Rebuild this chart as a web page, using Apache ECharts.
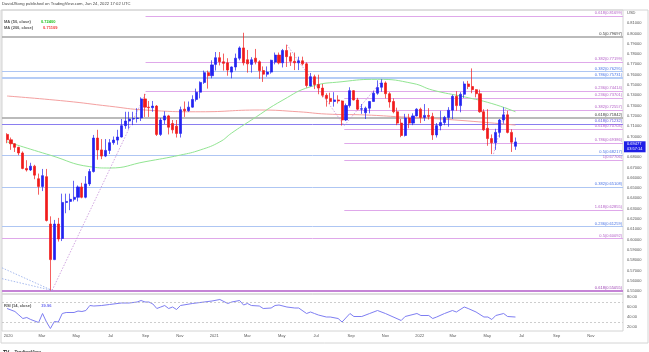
<!DOCTYPE html>
<html>
<head>
<meta charset="utf-8">
<script src="https://cdn.jsdelivr.net/npm/echarts@6/dist/echarts.min.js"></script>
<style>
html, body { margin: 0; padding: 0; background: #fff; }
#chart { width: 649px; height: 352px; }
</style>
</head>
<body>
<div id="chart"></div>
<script>
var DAY = 86400000;
var firstWeek = '2019-12-30';

// weekly AUD/USD candles: [open, close, low, high]
var candles = [
  // 2020
  [0.7020, 0.6968, 0.6935, 0.7032], [0.6968, 0.6930, 0.6870, 0.6990], [0.6930, 0.6895, 0.6850, 0.6935],
  [0.6895, 0.6840, 0.6818, 0.6900], [0.6840, 0.6690, 0.6682, 0.6855], [0.6690, 0.6675, 0.6660, 0.6770],
  [0.6675, 0.6712, 0.6665, 0.6745], [0.6712, 0.6625, 0.6585, 0.6725], [0.6590, 0.6515, 0.6435, 0.6640],
  [0.6515, 0.6620, 0.6470, 0.6685], [0.6610, 0.6185, 0.6175, 0.6685], [0.6150, 0.5805, 0.5506, 0.6225],
  [0.5805, 0.6150, 0.5800, 0.6190], [0.6150, 0.6005, 0.5980, 0.6210], [0.6010, 0.6360, 0.5985, 0.6445],
  [0.6360, 0.6370, 0.6255, 0.6445], [0.6370, 0.6390, 0.6285, 0.6445], [0.6390, 0.6410, 0.6370, 0.6570],
  [0.6410, 0.6510, 0.6370, 0.6525], [0.6510, 0.6410, 0.6400, 0.6550], [0.6410, 0.6540, 0.6400, 0.6615],
  [0.6540, 0.6660, 0.6520, 0.6685], [0.6660, 0.6985, 0.6650, 0.7015], [0.6985, 0.6870, 0.6775, 0.7065],
  [0.6870, 0.6810, 0.6780, 0.6975], [0.6810, 0.6865, 0.6800, 0.6975], [0.6865, 0.6940, 0.6830, 0.6975],
  [0.6940, 0.6965, 0.6920, 0.7000], [0.6965, 0.6995, 0.6920, 0.7065], [0.6995, 0.7105, 0.6990, 0.7170],
  [0.7105, 0.7150, 0.7075, 0.7240], [0.7150, 0.7170, 0.7075, 0.7240], [0.7170, 0.7175, 0.7110, 0.7240],
  [0.7175, 0.7180, 0.7135, 0.7275], [0.7180, 0.7365, 0.7150, 0.7380], [0.7365, 0.7285, 0.7190, 0.7414],
  [0.7285, 0.7280, 0.7190, 0.7345], [0.7280, 0.7295, 0.7240, 0.7345], [0.7295, 0.7020, 0.7005, 0.7305],
  [0.7020, 0.7160, 0.7005, 0.7180], [0.7160, 0.7200, 0.7120, 0.7245], [0.7200, 0.7090, 0.7020, 0.7210],
  [0.7125, 0.7065, 0.7030, 0.7160], [0.7100, 0.7030, 0.6990, 0.7160], [0.7030, 0.7260, 0.6990, 0.7290],
  [0.7265, 0.7250, 0.7190, 0.7340], [0.7250, 0.7285, 0.7240, 0.7340], [0.7285, 0.7360, 0.7280, 0.7400],
  [0.7360, 0.7430, 0.7340, 0.7465], [0.7430, 0.7525, 0.7370, 0.7535], [0.7525, 0.7620, 0.7510, 0.7640],
  [0.7620, 0.7590, 0.7465, 0.7640], [0.7590, 0.7695, 0.7565, 0.7740],
  // 2021
  [0.7700, 0.7765, 0.7640, 0.7820], [0.7765, 0.7725, 0.7690, 0.7820], [0.7725, 0.7710, 0.7640, 0.7805],
  [0.7715, 0.7645, 0.7590, 0.7760], [0.7625, 0.7675, 0.7565, 0.7680], [0.7675, 0.7760, 0.7640, 0.7805],
  [0.7760, 0.7860, 0.7740, 0.7875], [0.7860, 0.7715, 0.7690, 0.8007], [0.7745, 0.7705, 0.7620, 0.7840],
  [0.7700, 0.7745, 0.7620, 0.7770], [0.7760, 0.7725, 0.7700, 0.7850], [0.7725, 0.7640, 0.7560, 0.7740],
  [0.7640, 0.7605, 0.7530, 0.7680], [0.7605, 0.7625, 0.7580, 0.7680], [0.7625, 0.7740, 0.7610, 0.7745],
  [0.7722, 0.7790, 0.7700, 0.7815], [0.7790, 0.7715, 0.7700, 0.7815], [0.7715, 0.7835, 0.7670, 0.7850],
  [0.7835, 0.7775, 0.7675, 0.7891], [0.7775, 0.7730, 0.7685, 0.7815], [0.7730, 0.7715, 0.7645, 0.7815],
  [0.7715, 0.7735, 0.7645, 0.7775], [0.7735, 0.7705, 0.7690, 0.7775], [0.7705, 0.7495, 0.7475, 0.7720],
  [0.7490, 0.7580, 0.7485, 0.7617], [0.7580, 0.7505, 0.7460, 0.7600], [0.7505, 0.7470, 0.7410, 0.7600],
  [0.7470, 0.7400, 0.7380, 0.7510], [0.7400, 0.7370, 0.7290, 0.7420], [0.7370, 0.7340, 0.7315, 0.7425],
  [0.7340, 0.7355, 0.7290, 0.7430], [0.7355, 0.7345, 0.7320, 0.7400], [0.7345, 0.7160, 0.7106, 0.7350],
  [0.7160, 0.7300, 0.7150, 0.7320], [0.7300, 0.7445, 0.7280, 0.7478], [0.7445, 0.7355, 0.7350, 0.7450],
  [0.7355, 0.7265, 0.7255, 0.7375], [0.7265, 0.7270, 0.7220, 0.7315], [0.7230, 0.7275, 0.7170, 0.7290],
  [0.7275, 0.7340, 0.7225, 0.7345], [0.7340, 0.7420, 0.7340, 0.7440], [0.7420, 0.7475, 0.7405, 0.7545],
  [0.7478, 0.7520, 0.7435, 0.7556], [0.7520, 0.7415, 0.7370, 0.7535], [0.7415, 0.7335, 0.7280, 0.7430],
  [0.7340, 0.7240, 0.7225, 0.7370], [0.7240, 0.7130, 0.7110, 0.7280], [0.7130, 0.7010, 0.6993, 0.7170],
  [0.7010, 0.7180, 0.7000, 0.7220], [0.7180, 0.7130, 0.7080, 0.7220], [0.7130, 0.7200, 0.7110, 0.7225],
  [0.7200, 0.7265, 0.7195, 0.7275],
  // 2022
  [0.7265, 0.7185, 0.7130, 0.7280], [0.7185, 0.7205, 0.7150, 0.7315], [0.7205, 0.7195, 0.7165, 0.7275],
  [0.7195, 0.7015, 0.6967, 0.7230], [0.7015, 0.7105, 0.6990, 0.7130], [0.7105, 0.7135, 0.7060, 0.7250],
  [0.7135, 0.7185, 0.7110, 0.7200], [0.7185, 0.7255, 0.7095, 0.7285], [0.7255, 0.7390, 0.7170, 0.7405],
  [0.7390, 0.7300, 0.7250, 0.7440], [0.7300, 0.7410, 0.7235, 0.7430], [0.7410, 0.7510, 0.7375, 0.7535],
  [0.7510, 0.7485, 0.7460, 0.7540], [0.7485, 0.7455, 0.7420, 0.7661], [0.7455, 0.7415, 0.7380, 0.7460],
  [0.7415, 0.7240, 0.7230, 0.7455], [0.7240, 0.7065, 0.7055, 0.7265], [0.7080, 0.6980, 0.6910, 0.7265],
  [0.6980, 0.6940, 0.6829, 0.7020], [0.6940, 0.7040, 0.6870, 0.7075], [0.7040, 0.7160, 0.6990, 0.7170],
  [0.7160, 0.7210, 0.7125, 0.7283], [0.7210, 0.7040, 0.7030, 0.7250], [0.7040, 0.6945, 0.6850, 0.7070],
  [0.6905, 0.69477, 0.6870, 0.6990]
];
var lastClose = 0.69477;
var countdown = '03:57:14';

// moving averages: [week index, value]
var ma50Points = [[0, 0.6948], [11, 0.6818], [21, 0.6707], [26, 0.6694], [35, 0.6755], [44, 0.6820],
  [49, 0.6869], [54, 0.6948], [57, 0.7034], [62, 0.7160], [70, 0.7354], [77, 0.7483], [85, 0.7532],
  [94, 0.7555], [103, 0.7515], [108, 0.7450], [116, 0.7385], [123, 0.7320], [129, 0.7240]];
var ma200Points = [[0, 0.7393], [15, 0.7343], [26, 0.7294], [35, 0.7257], [49, 0.7240], [64, 0.7257],
  [74, 0.7240], [81, 0.7218], [91, 0.7209], [100, 0.7190], [112, 0.7165], [129, 0.7111]];
var ma50Last = '0.72400';
var ma200Last = '0.71109';

// RSI(14): [week index, value]
var rsiPoints = [[0, 57], [2, 51], [3, 44], [4, 37], [5, 39], [6, 35], [8, 29], [9, 47], [10, 30], [11, 17],
  [12, 31], [13, 30], [14, 47], [15, 49], [17, 49], [18, 52], [19, 51], [20, 53], [21, 63], [22, 62],
  [24, 63], [26, 65], [29, 68], [31, 68], [33, 70], [34, 73], [35, 70], [36, 70], [37, 66], [38, 57],
  [39, 60], [40, 63], [41, 57], [42, 60], [43, 55], [44, 63], [47, 67], [50, 70], [52, 72], [54, 75],
  [56, 67], [57, 70], [59, 73], [60, 64], [61, 67], [62, 63], [64, 62], [65, 57], [67, 58], [68, 63],
  [69, 64], [71, 60], [73, 58], [74, 58], [76, 47], [77, 50], [78, 47], [79, 44], [81, 40], [82, 40],
  [84, 37], [85, 30], [87, 47], [88, 41], [90, 41], [92, 47], [94, 53], [96, 47], [100, 33], [101, 41],
  [104, 47], [105, 43], [107, 43], [108, 37], [109, 40], [111, 47], [113, 53], [114, 50], [116, 60],
  [117, 57], [119, 50], [121, 40], [122, 40], [123, 35], [124, 43], [126, 47], [127, 41], [129, 39.96]];
var rsiLast = '39.96';

// fibonacci levels drawn on the chart
var fibLevels = [0.81699, 0.79697, 0.77199, 0.76295, 0.75731, 0.74414, 0.73701, 0.72557, 0.71842, 0.71232,
  0.70704, 0.69386, 0.68217, 0.67706, 0.65108, 0.62855, 0.61259, 0.60092, 0.55055];
var fibRatios = ['0.618', '0.5', '0.382', '0.382', '0.786', '0.236', '0.236', '0.382', '0.618', '0.618',
  '0.618', '0.786', '0.5', '1', '0.382', '1.618', '0.236', '0.5', '0.618'];
var fibSets = ['v', 'g', 'v', 'b', 'B', 'v', 'v', 'v', 'g', 'i', 'v', 'v', 'b', 'v', 'b', 'v', 'b', 'v', 'V'];
var fibStarts = ['2020-09-01', null, '2020-09-01', null, null, '2020-09-01', '2021-08-20', '2021-08-20', null, null,
  '2021-08-20', '2021-08-20', null, '2021-08-20', null, '2021-08-20', null, null, null];

// dotted fib anchor lines
var trendLines = [
  ['v', '2020-03-19', 0.5506, '2020-09-01', 0.7414],
  ['b', '2019-12-21', 0.5725, '2020-03-19', 0.5506],
  ['b', '2019-12-21', 0.5620, '2020-03-19', 0.5506],
  ['v', '2021-05-10', 0.7891, '2021-08-20', 0.7106],
  ['v', '2021-08-20', 0.7106, '2021-10-28', 0.7556],
  ['v', '2022-05-12', 0.6829, '2022-06-03', 0.7283]
];

var priceTicks = [0.55, 0.56, 0.57, 0.58, 0.59, 0.60, 0.61, 0.62, 0.63, 0.64, 0.65, 0.66, 0.67, 0.68,
  0.69, 0.70, 0.71, 0.72, 0.73, 0.74, 0.75, 0.76, 0.77, 0.78, 0.79, 0.80, 0.81, 0.82];
var rsiTicks = [20, 40, 60, 80];
var xTickDates = ['2020-01-01', '2020-03-01', '2020-05-01', '2020-07-01', '2020-09-01', '2020-11-01',
  '2021-01-01', '2021-03-01', '2021-05-01', '2021-07-01', '2021-09-01', '2021-11-01',
  '2022-01-01', '2022-03-01', '2022-05-01', '2022-07-01', '2022-09-01', '2022-11-01'];
var xTickLabels = ['2020', 'Mar', 'May', 'Jul', 'Sep', 'Nov', '2021', 'Mar', 'May', 'Jul', 'Sep', 'Nov',
  '2022', 'Mar', 'May', 'Jul', 'Sep', 'Nov'];

function d(s) { return new Date(s + 'T00:00:00Z').getTime(); }
function wk(i) { return d(firstWeek) + i * 7 * DAY; }

var xMin = d('2019-12-21');
var xMax = d('2022-12-28');
var FONT = 'Liberation Sans';

var setStyle = {
  v: { line: '#dfa8ea', text: '#b25cc6', width: 1 },
  V: { line: '#c584d6', text: '#9c3fb3', width: 2 },
  b: { line: '#aec6f3', text: '#4671e6', width: 1 },
  B: { line: '#b6cdf6', text: '#4671e6', width: 2 },
  g: { line: '#a4a4a4', text: '#333333', width: 1.5 },
  i: { line: '#8a7ef0', text: '#5a4de0', width: 1 }
};

var xLabelMap = {};
xTickDates.forEach(function (s, i) { xLabelMap[d(s)] = xTickLabels[i]; });

var candleData = candles.map(function (c, i) { return [wk(i), c[0], c[1], c[2], c[3]]; });
var toLine = function (pts) { return pts.map(function (p) { return [wk(p[0]), p[1]]; }); };

var markLines = fibLevels.map(function (v, i) {
  var st = setStyle[fibSets[i]];
  var start = fibStarts[i] ? d(fibStarts[i]) : xMin;
  return [
    {
      coord: [start, v],
      lineStyle: { color: st.line, width: st.width, type: 'solid' },
      label: {
        show: true, position: 'insideEndTop', distance: 1,
        formatter: fibRatios[i] + '(' + v.toFixed(5) + ')',
        color: st.text, fontSize: 4, fontFamily: FONT
      }
    },
    { coord: [xMax, v] }
  ];
});

var series = [
  {
    name: 'MA200', type: 'line', xAxisIndex: 0, yAxisIndex: 0, smooth: true, showSymbol: false,
    lineStyle: { color: '#f4a0a0', width: 1 }, data: toLine(ma200Points), z: 2, silent: true
  },
  {
    name: 'MA50', type: 'line', xAxisIndex: 0, yAxisIndex: 0, smooth: true, showSymbol: false,
    lineStyle: { color: '#92e592', width: 1 }, data: toLine(ma50Points), z: 2, silent: true
  },
  {
    name: 'AUDUSD', type: 'candlestick', xAxisIndex: 0, yAxisIndex: 0, barWidth: 2.6,
    itemStyle: { color: '#2323f0', color0: '#f01b1b', borderColor: '#2323f0', borderColor0: '#f01b1b', borderWidth: 0.7 },
    data: candleData, z: 5,
    markLine: { symbol: ['none', 'none'], silent: true, animation: false, data: markLines, z: 1 }
  },
  {
    // last price tag on the price scale
    name: 'last', type: 'line', xAxisIndex: 0, yAxisIndex: 0, data: [], silent: true,
    markLine: {
      symbol: ['none', 'none'], silent: true, animation: false, z: 10,
      lineStyle: { color: 'rgba(0,0,0,0)', width: 0.1 },
      data: [{
        yAxis: lastClose,
        label: {
          show: true, position: 'end', distance: 1,
          formatter: lastClose.toFixed(5) + '\n' + countdown,
          backgroundColor: '#1f1fe6', color: '#ffffff', fontSize: 4, lineHeight: 5,
          padding: [0.5, 3], fontFamily: FONT
        }
      }]
    }
  },
  {
    name: 'RSI', type: 'line', xAxisIndex: 1, yAxisIndex: 1, showSymbol: false,
    lineStyle: { color: '#7e7ef2', width: 1 }, data: toLine(rsiPoints), silent: true,
    markLine: {
      symbol: ['none', 'none'], silent: true, animation: false, label: { show: false },
      lineStyle: { color: '#b8b8b8', type: [2, 2], width: 0.7 },
      data: [{ yAxis: 70 }, { yAxis: 30 }]
    }
  }
];

trendLines.forEach(function (t) {
  series.push({
    type: 'line', xAxisIndex: 0, yAxisIndex: 0, showSymbol: false, silent: true, z: 3,
    lineStyle: { color: t[0] === 'v' ? '#c58fd8' : '#92a9ea', width: 0.8, type: [1.5, 1.5] },
    data: [[d(t[1]), t[2]], [d(t[3]), t[4]]]
  });
});

var axisText = { color: '#555', fontSize: 4, fontFamily: FONT };

var option = {
  animation: false,
  backgroundColor: '#fff',
  title: [
    {
      text: 'DavidJSong published on TradingView.com, Jun 24, 2022 17:02 UTC', left: 2, top: 2, padding: 0,
      textStyle: { fontSize: 4.2, color: '#444', fontWeight: 'normal', fontFamily: FONT }
    },
    {
      text: '{l|MA (50, close)}  {g|' + ma50Last + '}', left: 4, top: 13, padding: 0,
      textStyle: { rich: { l: { fontSize: 4, color: '#555', fontFamily: FONT }, g: { fontSize: 4, color: '#21c321', fontFamily: FONT } } }
    },
    {
      text: '{l|MA (200, close)}  {r|' + ma200Last + '}', left: 4, top: 19, padding: 0,
      textStyle: { rich: { l: { fontSize: 4, color: '#555', fontFamily: FONT }, r: { fontSize: 4, color: '#f03030', fontFamily: FONT } } }
    },
    {
      text: '{l|RSI (14, close)}  {b|' + rsiLast + '}', left: 4, top: 297, padding: 0,
      textStyle: { rich: { l: { fontSize: 4, color: '#555', fontFamily: FONT }, b: { fontSize: 4, color: '#6a6af0', fontFamily: FONT } } }
    },
    {
      text: '{i|TV} {t|TradingView}', left: 3, top: 344, padding: 0,
      textStyle: { rich: { i: { fontSize: 5, color: '#222', fontWeight: 'bold', fontFamily: FONT }, t: { fontSize: 4.5, color: '#333', fontFamily: FONT } } }
    }
  ],
  graphic: [
    { type: 'rect', shape: { x: 1, y: 10, width: 647, height: 333 }, style: { fill: 'none', stroke: '#d4d4d4', lineWidth: 1 }, silent: true }
  ],
  grid: [
    { left: 2, right: 26, top: 10, height: 284, show: true, borderColor: '#d4d4d4', borderWidth: 1 },
    { left: 2, right: 26, top: 294, height: 37, show: true, borderColor: '#d4d4d4', borderWidth: 1 }
  ],
  xAxis: [
    {
      type: 'value', gridIndex: 0, min: xMin, max: xMax,
      axisLine: { show: false }, axisTick: { show: false }, axisLabel: { show: false }, splitLine: { show: false }
    },
    {
      type: 'value', gridIndex: 1, min: xMin, max: xMax,
      axisLine: { show: false }, axisTick: { show: false }, splitLine: { show: false },
      axisLabel: Object.assign({
        margin: 3,
        customValues: xTickDates.map(d),
        formatter: function (v) { return xLabelMap[v] || ''; }
      }, axisText)
    }
  ],
  yAxis: [
    {
      type: 'value', gridIndex: 0, position: 'right', min: 0.5471, max: 0.8228, scale: true,
      axisLine: { show: false }, axisTick: { show: false }, splitLine: { show: false },
      axisLabel: Object.assign({
        margin: 4,
        customValues: priceTicks,
        formatter: function (v) { return v > 0.815 ? 'USD' : v.toFixed(5); }
      }, axisText)
    },
    {
      type: 'value', gridIndex: 1, position: 'right', min: 12, max: 86,
      axisLine: { show: false }, axisTick: { show: false }, splitLine: { show: false },
      axisLabel: Object.assign({
        margin: 4,
        customValues: rsiTicks,
        formatter: function (v) { return v.toFixed(2); }
      }, axisText)
    }
  ],
  series: series
};

var chart = echarts.init(document.getElementById('chart'));
chart.setOption(option);
</script>
</body>
</html>
